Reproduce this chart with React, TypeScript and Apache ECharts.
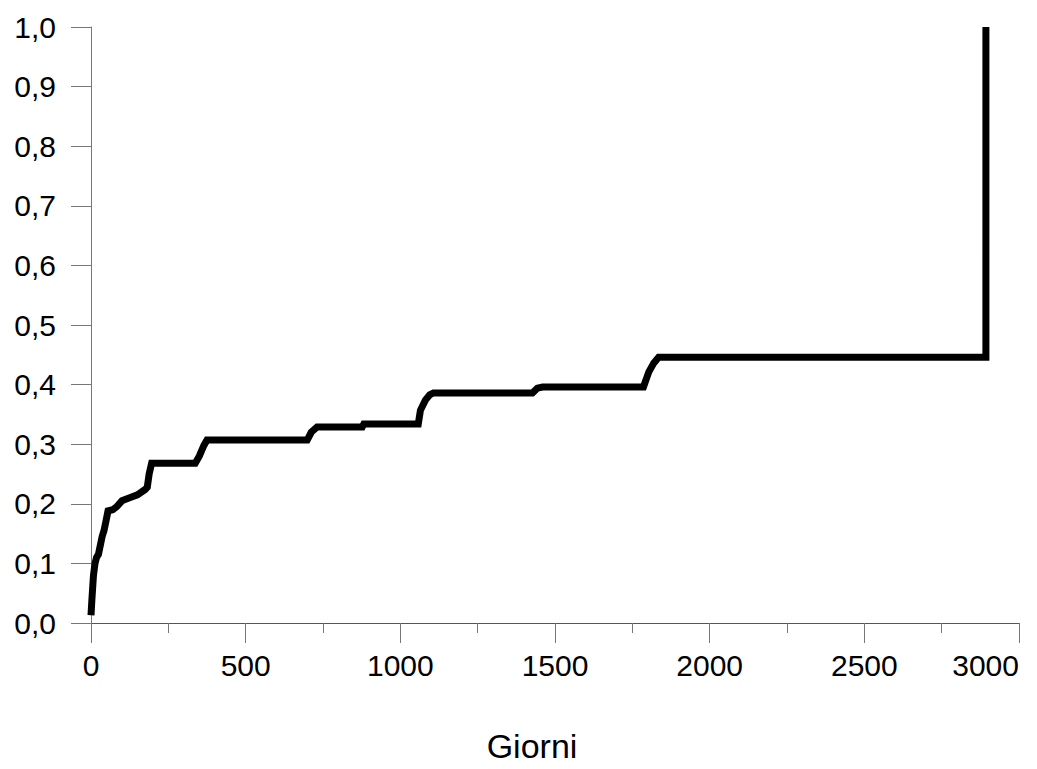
import React, { useEffect, useRef } from "react";
import * as echarts from "echarts";

const days = [0, 3, 8, 13, 18, 24, 30, 36, 42, 48, 55, 70, 83, 100, 125, 150, 175, 182, 188, 196, 337, 350, 365, 375, 699, 712, 731, 877, 882, 1058, 1065, 1081, 1095, 1107, 1427, 1443, 1460, 1786, 1803, 1819, 1835, 2893, 2893];
const values = [0.013, 0.04, 0.08, 0.1, 0.11, 0.115, 0.13, 0.145, 0.155, 0.17, 0.188, 0.19, 0.195, 0.205, 0.21, 0.215, 0.224, 0.228, 0.25, 0.268, 0.268, 0.28, 0.298, 0.307, 0.307, 0.32, 0.329, 0.329, 0.334, 0.334, 0.357, 0.374, 0.383, 0.386, 0.386, 0.394, 0.396, 0.396, 0.421, 0.436, 0.446, 0.446, 1.0];
const xAxisTitle = "Giorni";

export default function App() {
  const ref = useRef<HTMLDivElement>(null);
  useEffect(() => {
    if (!ref.current) return;
    const chart = echarts.init(ref.current, null, { renderer: "svg" });
    const font = "Arial, 'Liberation Sans', sans-serif";
    chart.setOption({
      animation: false,
      backgroundColor: "#ffffff",
      grid: { left: 91, right: 18, top: 27, bottom: 146, containLabel: false },
      xAxis: {
        type: "value",
        min: 0,
        max: 3000,
        interval: 500,
        name: xAxisTitle,
        nameLocation: "middle",
        nameGap: 106,
        nameTextStyle: { fontSize: 34, color: "#000", fontFamily: font, padding: [0, 46, 0, 0] },
        axisLine: { show: true, lineStyle: { color: "#555", width: 1 } },
        axisTick: { show: true, length: 20, lineStyle: { color: "#777", width: 1 } },
        minorTick: { show: true, splitNumber: 2, length: 10, lineStyle: { color: "#777", width: 1 } },
        splitLine: { show: false },
        axisLabel: {
          margin: 27,
          fontSize: 30,
          color: "#000",
          fontFamily: font,
          alignMaxLabel: "right",
          formatter: (v: number) => String(v),
        },
      },
      yAxis: {
        type: "value",
        min: 0,
        max: 1,
        interval: 0.1,
        axisLine: { show: true, lineStyle: { color: "#777", width: 1 } },
        axisTick: { show: true, length: 20, lineStyle: { color: "#777", width: 1 } },
        splitLine: { show: false },
        axisLabel: {
          margin: 35,
          fontSize: 30,
          color: "#000",
          fontFamily: font,
          formatter: (v: number) => v.toFixed(1).replace(".", ","),
        },
      },
      series: [
        {
          type: "line",
          data: days.map((d, i) => [d, values[i]]),
          showSymbol: false,
          symbol: "none",
          lineStyle: { color: "#000", width: 7, join: "miter" },
        },
      ],
    });
    return () => chart.dispose();
  }, []);
  return (
    <div
      ref={ref}
      style={{ position: "fixed", left: 0, top: 0, width: 1037, height: 769, background: "#fff" }}
    />
  );
}
